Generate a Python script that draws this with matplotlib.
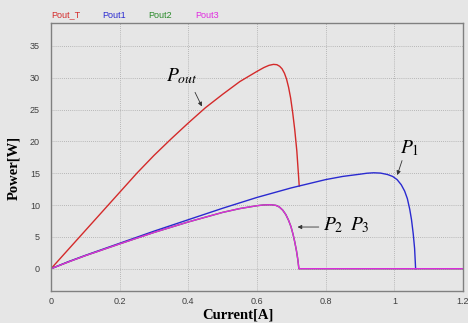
"""
Power vs current curves: total output and the three module outputs.
"""
import matplotlib
matplotlib.use("Agg")
from matplotlib import pyplot as plt

OUTPUT = "out.png"

# Pout_T (total output)
I_T = [0, 0.05, 0.1, 0.15, 0.2, 0.25, 0.3, 0.35, 0.4, 0.45, 0.5, 0.55, 0.6,
       0.62, 0.635, 0.648, 0.658, 0.666, 0.673, 0.68, 0.686, 0.692, 0.698,
       0.704, 0.71, 0.716, 0.723]
P_T = [0, 3.0, 6.0, 9.0, 12.0, 15.0, 17.8, 20.4, 22.9, 25.3, 27.4, 29.4, 31.0,
       31.6, 31.95, 32.1, 32.05, 31.8, 31.4, 30.7, 29.8, 28.5, 26.8,
       24.5, 21.8, 18.5, 13.0]

# Pout1
I_1 = [0, 0.05, 0.1, 0.2, 0.3, 0.4, 0.5, 0.6, 0.7, 0.8, 0.85, 0.9, 0.92,
       0.94, 0.96, 0.98, 0.995, 1.008, 1.02, 1.03, 1.038, 1.045, 1.05,
       1.055, 1.059, 1.062]
P_1 = [0, 1.1, 2.1, 4.0, 5.9, 7.7, 9.5, 11.2, 12.7, 14.0, 14.5, 14.85, 15.0,
       15.07, 15.02, 14.8, 14.5, 14.0, 13.2, 12.2, 11.0, 9.3, 7.7,
       5.5, 3.2, 0]

# Pout2 and Pout3 (identical, Pout3 drawn on top)
I_23 = [0, 0.05, 0.1, 0.2, 0.3, 0.4, 0.5, 0.55, 0.6, 0.62, 0.64, 0.655,
        0.665, 0.675, 0.684, 0.692, 0.699, 0.705, 0.71, 0.715, 0.719, 0.722,
        1.2]
P_23 = [0, 1.05, 2.05, 3.9, 5.7, 7.35, 8.85, 9.45, 9.9, 10.02, 10.05, 9.95,
        9.7, 9.2, 8.5, 7.6, 6.6, 5.4, 4.2, 2.8, 1.4, 0,
        0]

SERIES = ["Pout_T", "Pout1", "Pout2", "Pout3"]
COLORS = ["#d42a2a", "#2a2ad0", "#2a8a2a", "#e02ae0"]
XTICKS = [0, 0.2, 0.4, 0.6, 0.8, 1.0, 1.2]
XTICKLABELS = ["0", "0.2", "0.4", "0.6", "0.8", "1", "1.2"]
YTICKS = [0, 5, 10, 15, 20, 25, 30, 35]

BG = "#e6e6e6"

if __name__ == "__main__":
    plt.rcParams["mathtext.fontset"] = "stix"
    fig = plt.figure(figsize=(4.68, 3.23), dpi=100, facecolor=BG)
    ax = fig.add_axes([51 / 468, 32 / 323, 412 / 468, 268 / 323])
    ax.set_facecolor(BG)

    ax.plot(I_T, P_T, color=COLORS[0], lw=1.0)
    ax.plot(I_1, P_1, color=COLORS[1], lw=1.0)
    ax.plot(I_23, P_23, color=COLORS[2], lw=1.0)
    ax.plot(I_23, P_23, color=COLORS[3], lw=1.0)

    ax.set_xlim(0, 1.2)
    ax.set_ylim(-3.5, 38.6)
    ax.set_xticks(XTICKS)
    ax.set_xticklabels(XTICKLABELS)
    ax.set_yticks(YTICKS)
    ax.tick_params(axis="both", length=0, labelsize=6.5, colors="#404040",
                   labelfontfamily="Liberation Sans")
    ax.tick_params(axis="x", pad=4)
    ax.tick_params(axis="y", pad=8)
    ax.grid(True, color="#a8a8a8", lw=0.6, linestyle=(0, (1, 1.5)))
    for sp in ax.spines.values():
        sp.set_color("#808080")
        sp.set_linewidth(1.0)

    # series names along the top
    for x_px, name, col in zip([51, 102, 148, 195], SERIES, COLORS):
        fig.text(x_px / 468, 1 - 15 / 323, name, color=col, fontsize=6.5,
                 family="Liberation Sans", ha="left", va="center")

    fig.text(238 / 468, 1 - 315 / 323, "Current[A]", ha="center", va="center",
             fontsize=10.5, fontweight="bold", family="Liberation Serif")
    fig.text(14 / 468, 1 - 168 / 323, "Power[W]", ha="center", va="center",
             rotation=90, fontsize=10.5, fontweight="bold",
             family="Liberation Serif")

    arrow = dict(arrowstyle="-|>", color="#333333", lw=0.6, mutation_scale=6)
    ax.annotate("", xy=(0.443, 25.1), xytext=(0.416, 28.1), arrowprops=arrow)
    ax.annotate("", xy=(1.006, 14.3), xytext=(1.025, 17.4), arrowprops=arrow)
    ax.annotate("", xy=(0.710, 6.55), xytext=(0.788, 6.55), arrowprops=arrow)
    ax.text(0.335, 29.4, r"$P_{out}$", fontsize=14, ha="left", va="baseline")
    ax.text(1.016, 18.2, r"$P_{1}$", fontsize=14, ha="left", va="baseline")
    ax.text(0.792, 6.1, r"$P_{2}$", fontsize=14, ha="left", va="baseline")
    ax.text(0.872, 6.1, r"$P_{3}$", fontsize=14, ha="left", va="baseline")

    fig.savefig(OUTPUT, dpi=100, facecolor=BG)
